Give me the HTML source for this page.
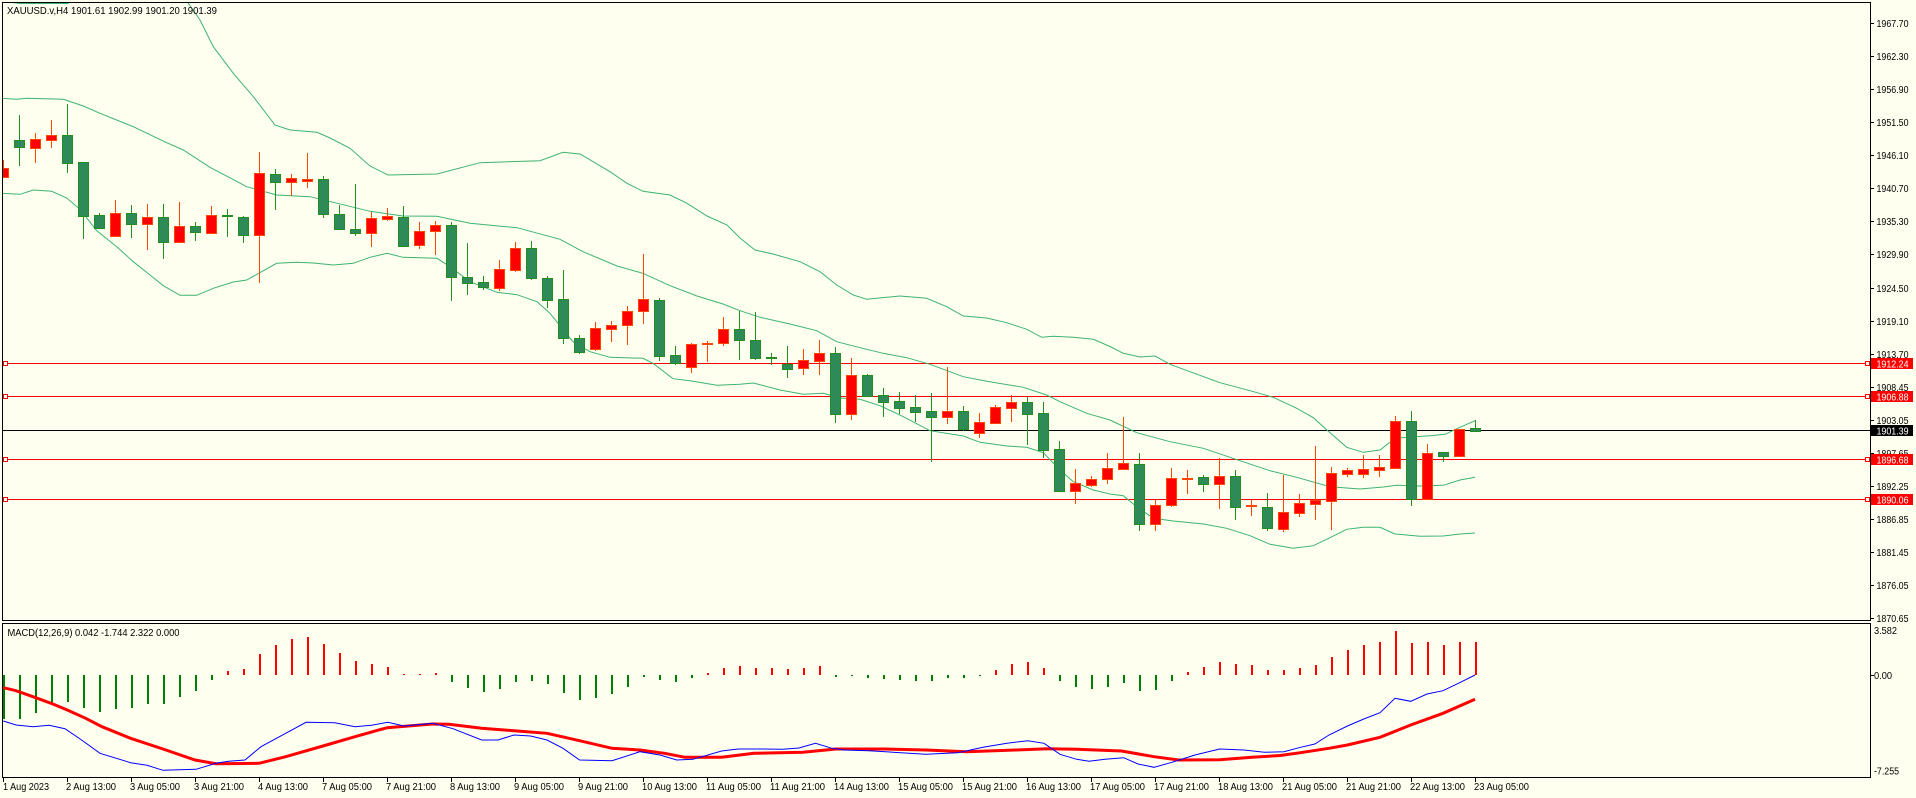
<!DOCTYPE html>
<html><head><meta charset="utf-8"><style>
html,body{margin:0;padding:0;background:#FFFFF0;}
svg{display:block;}
text{font-family:"Liberation Sans",sans-serif;font-size:10px;fill:#000;}
.g{fill:#2E8B57;stroke:#228B22;stroke-width:1;}
.r{fill:#FF0000;stroke:#FF4500;stroke-width:1;}
.gw{stroke:#228B22;stroke-width:1;}
.rw{stroke:#FF4500;stroke-width:1;}
.bb{fill:none;stroke:#3CB371;stroke-width:1;}
.hg{fill:#008000;}
.hr{fill:#FF0000;}
</style></head><body>
<svg width="1916" height="798" viewBox="0 0 1916 798" xmlns="http://www.w3.org/2000/svg">
<rect x="0" y="0" width="1916" height="798" fill="#FFFFF0"/>
<defs>
<clipPath id="cm"><rect x="3" y="3" width="1867" height="617"/></clipPath>
<clipPath id="cd"><rect x="3" y="624" width="1867" height="153"/></clipPath>
</defs>

<!-- horizontal level lines -->
<g shape-rendering="crispEdges">
<line x1="2" y1="363.5" x2="1870" y2="363.5" stroke="#FF0000"/>
<line x1="2" y1="396.5" x2="1870" y2="396.5" stroke="#FF0000"/>
<line x1="2" y1="459.5" x2="1870" y2="459.5" stroke="#FF0000"/>
<line x1="2" y1="499.5" x2="1870" y2="499.5" stroke="#FF0000"/>
<line x1="2" y1="430.5" x2="1870" y2="430.5" stroke="#000"/>
<rect x="3.5" y="361.5" width="4" height="4" fill="#FFFFF0" stroke="#FF0000"/>
<rect x="3.5" y="394.5" width="4" height="4" fill="#FFFFF0" stroke="#FF0000"/>
<rect x="3.5" y="457.5" width="4" height="4" fill="#FFFFF0" stroke="#FF0000"/>
<rect x="3.5" y="497.5" width="4" height="4" fill="#FFFFF0" stroke="#FF0000"/>
<rect x="1865.5" y="361.5" width="4" height="4" fill="#FFFFF0" stroke="#FF0000"/>
<rect x="1865.5" y="394.5" width="4" height="4" fill="#FFFFF0" stroke="#FF0000"/>
<rect x="1865.5" y="457.5" width="4" height="4" fill="#FFFFF0" stroke="#FF0000"/>
<rect x="1865.5" y="497.5" width="4" height="4" fill="#FFFFF0" stroke="#FF0000"/>
</g>

<g clip-path="url(#cm)">
<!-- Bollinger bands -->
<polyline class="bb" points="0,1 20,3.5 68,3.5 75,-5 120,-40 170,-20 186.7,1 200,20 213.3,46.7 233.3,73.3 253.3,96.7 275,125 290,130 317,132.3 330,138 350,148.3 370,166 388,175 437,174 480,162.7 540,160.7 563,152.3 580,154 610,171.7 627,183.3 643,191.3 670,195 687,203.3 707,216 727,225 740,238 755,250 773,254 800,261.7 820,271.7 836.7,285 853.3,295 866.7,299.3 886.7,297.3 900,296 926.7,298.3 946.7,306.7 963.3,316 986.7,318 1006.7,322.7 1026.7,329.3 1041.7,337.3 1053.3,336.3 1073.3,337.3 1093.3,339.3 1110,346.5 1123.3,353.3 1140,357 1155,356 1170,364.3 1190,371.7 1220,382.7 1250,390.7 1273.3,397.3 1296.7,408.3 1313.3,417.7 1330,432.7 1346.7,447.3 1363.3,452.3 1380,450 1395,438.3 1410,437 1430,435.7 1445,434.3 1460,427.3 1475,420.7"/>
<polyline class="bb" points="2,98.3 16.7,99.3 26.7,98.3 63.3,99.3 83.3,106 100,113.3 133.3,126.7 166.7,142.7 183.3,150 210,167.3 246.7,186.7 276.7,195 310,196.7 333.3,202.3 370,211.3 403,216 437,216.3 470,223.3 517,227.7 560,239.3 583,251.7 617,266 643,273.3 670,285.7 697,296 723,304 740,310.7 760,317.3 790,324 816.7,330.7 836.7,341.7 860,347.7 883.3,353.3 906.7,357.7 930,364.3 963.3,376.7 986.7,381.3 1023.3,387.3 1046.7,395 1060,401.7 1086.7,413.3 1110,420 1136.7,432.7 1170,441.7 1203.3,448.3 1240,460.7 1270,470.7 1296.7,477.3 1330,486.7 1360,489 1383.3,487 1396.7,485.3 1420,486 1443.3,485.3 1460,480 1475,477.3"/>
<polyline class="bb" points="2,193.3 20,194.3 33.3,190 51.7,191.3 66.7,198 80,209.3 96.7,230.7 116.7,246.7 133.3,261.7 150,275 163.3,285.7 180,295.3 196.7,295.3 213.3,288.3 233.3,282 246.7,280 276.7,263.3 296.7,262.3 313.3,263 333.3,265 353.3,263.3 370,257.3 387,253.3 403,257.3 437,258.3 450,266.7 470,281.7 497,292.3 517,294.7 537,301.7 550,313.3 573,341.7 590,351.7 610,357.3 643,358.3 653,363.3 673,378.7 690,380.7 717,385.3 740,384.3 753.3,383 780,390 803.3,394.3 823.3,393.3 840,398 860,399.3 880,405.7 903.3,416.7 930,430.7 963.3,436 980,442.3 1006.7,446 1026.7,447.3 1043.3,452.7 1060,470 1073.3,481.7 1093.3,490 1110,494 1123.3,495.7 1136.7,506.7 1153.3,518.3 1173.3,521 1203.3,524 1226.7,528.3 1250,535.7 1270,544.3 1293.3,548.3 1313.3,545.7 1330,537.7 1346.7,529.3 1363.3,527.3 1380,527.3 1395,534 1420,536.3 1443.3,536 1460,534 1475,533"/>

<!-- candles -->
<g shape-rendering="crispEdges">
<line class="rw" x1="3.5" y1="160" x2="3.5" y2="177"/><rect class="r" x="-1.5" y="168.5" width="10" height="9"/>
<line class="gw" x1="19.5" y1="115" x2="19.5" y2="166"/><rect class="g" x="14.5" y="140.5" width="10" height="7"/>
<line class="rw" x1="35.5" y1="133" x2="35.5" y2="163"/><rect class="r" x="30.5" y="139.5" width="10" height="9"/>
<line class="rw" x1="51.5" y1="120" x2="51.5" y2="148"/><rect class="r" x="46.5" y="135.5" width="10" height="5"/>
<line class="gw" x1="67.5" y1="104" x2="67.5" y2="173"/><rect class="g" x="62.5" y="135.5" width="10" height="28"/>
<line class="gw" x1="83.5" y1="162" x2="83.5" y2="239"/><rect class="g" x="78.5" y="162.5" width="10" height="54"/>
<line class="gw" x1="99.5" y1="213" x2="99.5" y2="229"/><rect class="g" x="94.5" y="215.5" width="10" height="13"/>
<line class="rw" x1="115.5" y1="200" x2="115.5" y2="236"/><rect class="r" x="110.5" y="213.5" width="10" height="23"/>
<line class="gw" x1="131.5" y1="205" x2="131.5" y2="238"/><rect class="g" x="126.5" y="213.5" width="10" height="11"/>
<line class="rw" x1="147.5" y1="204" x2="147.5" y2="250"/><rect class="r" x="142.5" y="217.5" width="10" height="7"/>
<line class="gw" x1="163.5" y1="204" x2="163.5" y2="259"/><rect class="g" x="158.5" y="217.5" width="10" height="25"/>
<line class="rw" x1="179.5" y1="202" x2="179.5" y2="242"/><rect class="r" x="174.5" y="226.5" width="10" height="16"/>
<line class="gw" x1="195.5" y1="222" x2="195.5" y2="241"/><rect class="g" x="190.5" y="226.5" width="10" height="6"/>
<line class="rw" x1="211.5" y1="206" x2="211.5" y2="234"/><rect class="r" x="206.5" y="215.5" width="10" height="18"/>
<line class="gw" x1="227.5" y1="209" x2="227.5" y2="237"/><rect class="g" x="222.5" y="215.5" width="10" height="1"/>
<line class="gw" x1="243.5" y1="216" x2="243.5" y2="243"/><rect class="g" x="238.5" y="217.5" width="10" height="18"/>
<line class="rw" x1="259.5" y1="152" x2="259.5" y2="283"/><rect class="r" x="254.5" y="173.5" width="10" height="62"/>
<line class="gw" x1="275.5" y1="169" x2="275.5" y2="210"/><rect class="g" x="270.5" y="174.5" width="10" height="8"/>
<line class="rw" x1="291.5" y1="174" x2="291.5" y2="196"/><rect class="r" x="286.5" y="178.5" width="10" height="4"/>
<line class="rw" x1="307.5" y1="153" x2="307.5" y2="188"/><rect class="r" x="302.5" y="179.5" width="10" height="2"/>
<line class="gw" x1="323.5" y1="176" x2="323.5" y2="218"/><rect class="g" x="318.5" y="179.5" width="10" height="35"/>
<line class="gw" x1="339.5" y1="205" x2="339.5" y2="229"/><rect class="g" x="334.5" y="214.5" width="10" height="15"/>
<line class="gw" x1="355.5" y1="184" x2="355.5" y2="236"/><rect class="g" x="350.5" y="229.5" width="10" height="4"/>
<line class="rw" x1="371.5" y1="212" x2="371.5" y2="247"/><rect class="r" x="366.5" y="218.5" width="10" height="15"/>
<line class="rw" x1="387.5" y1="208" x2="387.5" y2="221"/><rect class="r" x="382.5" y="216.5" width="10" height="3"/>
<line class="gw" x1="403.5" y1="206" x2="403.5" y2="247"/><rect class="g" x="398.5" y="217.5" width="10" height="29"/>
<line class="rw" x1="419.5" y1="222" x2="419.5" y2="249"/><rect class="r" x="414.5" y="231.5" width="10" height="14"/>
<line class="rw" x1="435.5" y1="221" x2="435.5" y2="255"/><rect class="r" x="430.5" y="225.5" width="10" height="6"/>
<line class="gw" x1="451.5" y1="222" x2="451.5" y2="301"/><rect class="g" x="446.5" y="225.5" width="10" height="52"/>
<line class="gw" x1="467.5" y1="243" x2="467.5" y2="295"/><rect class="g" x="462.5" y="277.5" width="10" height="6"/>
<line class="gw" x1="483.5" y1="276" x2="483.5" y2="290"/><rect class="g" x="478.5" y="282.5" width="10" height="5"/>
<line class="rw" x1="499.5" y1="260" x2="499.5" y2="291"/><rect class="r" x="494.5" y="269.5" width="10" height="19"/>
<line class="rw" x1="515.5" y1="242" x2="515.5" y2="272"/><rect class="r" x="510.5" y="248.5" width="10" height="22"/>
<line class="gw" x1="531.5" y1="241" x2="531.5" y2="280"/><rect class="g" x="526.5" y="248.5" width="10" height="30"/>
<line class="gw" x1="547.5" y1="276" x2="547.5" y2="308"/><rect class="g" x="542.5" y="278.5" width="10" height="22"/>
<line class="gw" x1="563.5" y1="270" x2="563.5" y2="344"/><rect class="g" x="558.5" y="299.5" width="10" height="39"/>
<line class="gw" x1="579.5" y1="335" x2="579.5" y2="354"/><rect class="g" x="574.5" y="338.5" width="10" height="14"/>
<line class="rw" x1="595.5" y1="322" x2="595.5" y2="351"/><rect class="r" x="590.5" y="328.5" width="10" height="21"/>
<line class="rw" x1="611.5" y1="321" x2="611.5" y2="342"/><rect class="r" x="606.5" y="325.5" width="10" height="4"/>
<line class="rw" x1="627.5" y1="306" x2="627.5" y2="345"/><rect class="r" x="622.5" y="311.5" width="10" height="14"/>
<line class="rw" x1="643.5" y1="254" x2="643.5" y2="324"/><rect class="r" x="638.5" y="299.5" width="10" height="12"/>
<line class="gw" x1="659.5" y1="298" x2="659.5" y2="361"/><rect class="g" x="654.5" y="300.5" width="10" height="56"/>
<line class="gw" x1="675.5" y1="346" x2="675.5" y2="365"/><rect class="g" x="670.5" y="355.5" width="10" height="8"/>
<line class="rw" x1="691.5" y1="343" x2="691.5" y2="373"/><rect class="r" x="686.5" y="344.5" width="10" height="23"/>
<line class="rw" x1="707.5" y1="341" x2="707.5" y2="362"/><rect class="r" x="702.5" y="343.5" width="10" height="1"/>
<line class="rw" x1="723.5" y1="317" x2="723.5" y2="346"/><rect class="r" x="718.5" y="329.5" width="10" height="14"/>
<line class="gw" x1="739.5" y1="311" x2="739.5" y2="360"/><rect class="g" x="734.5" y="329.5" width="10" height="11"/>
<line class="gw" x1="755.5" y1="312" x2="755.5" y2="360"/><rect class="g" x="750.5" y="340.5" width="10" height="18"/>
<line class="gw" x1="771.5" y1="353" x2="771.5" y2="365"/><rect class="g" x="766.5" y="357.5" width="10" height="1"/>
<line class="gw" x1="787.5" y1="346" x2="787.5" y2="378"/><rect class="g" x="782.5" y="364.5" width="10" height="5"/>
<line class="rw" x1="803.5" y1="349" x2="803.5" y2="375"/><rect class="r" x="798.5" y="360.5" width="10" height="8"/>
<line class="rw" x1="819.5" y1="340" x2="819.5" y2="375"/><rect class="r" x="814.5" y="353.5" width="10" height="8"/>
<line class="gw" x1="835.5" y1="347" x2="835.5" y2="423"/><rect class="g" x="830.5" y="353.5" width="10" height="61"/>
<line class="rw" x1="851.5" y1="358" x2="851.5" y2="420"/><rect class="r" x="846.5" y="375.5" width="10" height="39"/>
<line class="gw" x1="867.5" y1="374" x2="867.5" y2="396"/><rect class="g" x="862.5" y="375.5" width="10" height="21"/>
<line class="gw" x1="883.5" y1="388" x2="883.5" y2="417"/><rect class="g" x="878.5" y="395.5" width="10" height="7"/>
<line class="gw" x1="899.5" y1="392" x2="899.5" y2="414"/><rect class="g" x="894.5" y="401.5" width="10" height="7"/>
<line class="gw" x1="915.5" y1="395" x2="915.5" y2="422"/><rect class="g" x="910.5" y="407.5" width="10" height="5"/>
<line class="gw" x1="931.5" y1="393" x2="931.5" y2="462"/><rect class="g" x="926.5" y="411.5" width="10" height="6"/>
<line class="rw" x1="947.5" y1="367" x2="947.5" y2="424"/><rect class="r" x="942.5" y="411.5" width="10" height="6"/>
<line class="gw" x1="963.5" y1="406" x2="963.5" y2="431"/><rect class="g" x="958.5" y="411.5" width="10" height="18"/>
<line class="rw" x1="979.5" y1="413" x2="979.5" y2="438"/><rect class="r" x="974.5" y="422.5" width="10" height="11"/>
<line class="rw" x1="995.5" y1="405" x2="995.5" y2="424"/><rect class="r" x="990.5" y="407.5" width="10" height="16"/>
<line class="rw" x1="1011.5" y1="395" x2="1011.5" y2="422"/><rect class="r" x="1006.5" y="402.5" width="10" height="6"/>
<line class="gw" x1="1027.5" y1="397" x2="1027.5" y2="445"/><rect class="g" x="1022.5" y="402.5" width="10" height="12"/>
<line class="gw" x1="1043.5" y1="402" x2="1043.5" y2="458"/><rect class="g" x="1038.5" y="413.5" width="10" height="37"/>
<line class="gw" x1="1059.5" y1="441" x2="1059.5" y2="492"/><rect class="g" x="1054.5" y="449.5" width="10" height="42"/>
<line class="rw" x1="1075.5" y1="469" x2="1075.5" y2="504"/><rect class="r" x="1070.5" y="483.5" width="10" height="8"/>
<line class="rw" x1="1091.5" y1="476" x2="1091.5" y2="487"/><rect class="r" x="1086.5" y="479.5" width="10" height="6"/>
<line class="rw" x1="1107.5" y1="453" x2="1107.5" y2="484"/><rect class="r" x="1102.5" y="468.5" width="10" height="11"/>
<line class="rw" x1="1123.5" y1="417" x2="1123.5" y2="469"/><rect class="r" x="1118.5" y="463.5" width="10" height="6"/>
<line class="gw" x1="1139.5" y1="453" x2="1139.5" y2="531"/><rect class="g" x="1134.5" y="464.5" width="10" height="60"/>
<line class="rw" x1="1155.5" y1="500" x2="1155.5" y2="531"/><rect class="r" x="1150.5" y="505.5" width="10" height="19"/>
<line class="rw" x1="1171.5" y1="468" x2="1171.5" y2="507"/><rect class="r" x="1166.5" y="478.5" width="10" height="27"/>
<line class="rw" x1="1187.5" y1="470" x2="1187.5" y2="494"/><rect class="r" x="1182.5" y="478.5" width="10" height="1"/>
<line class="gw" x1="1203.5" y1="475" x2="1203.5" y2="492"/><rect class="g" x="1198.5" y="477.5" width="10" height="7"/>
<line class="rw" x1="1219.5" y1="458" x2="1219.5" y2="509"/><rect class="r" x="1214.5" y="476.5" width="10" height="8"/>
<line class="gw" x1="1235.5" y1="470" x2="1235.5" y2="520"/><rect class="g" x="1230.5" y="476.5" width="10" height="31"/>
<line class="rw" x1="1251.5" y1="500" x2="1251.5" y2="516"/><rect class="r" x="1246.5" y="505.5" width="10" height="1"/>
<line class="gw" x1="1267.5" y1="493" x2="1267.5" y2="531"/><rect class="g" x="1262.5" y="507.5" width="10" height="21"/>
<line class="rw" x1="1283.5" y1="475" x2="1283.5" y2="532"/><rect class="r" x="1278.5" y="512.5" width="10" height="17"/>
<line class="rw" x1="1299.5" y1="494" x2="1299.5" y2="517"/><rect class="r" x="1294.5" y="503.5" width="10" height="10"/>
<line class="rw" x1="1315.5" y1="446" x2="1315.5" y2="520"/><rect class="r" x="1310.5" y="500.5" width="10" height="4"/>
<line class="rw" x1="1331.5" y1="467" x2="1331.5" y2="530"/><rect class="r" x="1326.5" y="473.5" width="10" height="28"/>
<line class="rw" x1="1347.5" y1="468" x2="1347.5" y2="477"/><rect class="r" x="1342.5" y="470.5" width="10" height="4"/>
<line class="rw" x1="1363.5" y1="455" x2="1363.5" y2="478"/><rect class="r" x="1358.5" y="469.5" width="10" height="5"/>
<line class="rw" x1="1379.5" y1="455" x2="1379.5" y2="477"/><rect class="r" x="1374.5" y="467.5" width="10" height="3"/>
<line class="rw" x1="1395.5" y1="416" x2="1395.5" y2="469"/><rect class="r" x="1390.5" y="421.5" width="10" height="47"/>
<line class="gw" x1="1411.5" y1="411" x2="1411.5" y2="506"/><rect class="g" x="1406.5" y="421.5" width="10" height="78"/>
<line class="rw" x1="1427.5" y1="444" x2="1427.5" y2="499"/><rect class="r" x="1422.5" y="453.5" width="10" height="46"/>
<line class="gw" x1="1443.5" y1="452" x2="1443.5" y2="462"/><rect class="g" x="1438.5" y="452.5" width="10" height="4"/>
<line class="rw" x1="1459.5" y1="429" x2="1459.5" y2="457"/><rect class="r" x="1454.5" y="429.5" width="10" height="27"/>
<line class="gw" x1="1475.5" y1="420" x2="1475.5" y2="432"/><rect class="g" x="1470.5" y="428.5" width="10" height="3"/>
</g>
</g>

<!-- MACD panel -->
<g clip-path="url(#cd)" shape-rendering="crispEdges">
<rect class="hg" x="3" y="675" width="2" height="44"/>
<rect class="hg" x="19" y="675" width="2" height="44"/>
<rect class="hg" x="35" y="675" width="2" height="38"/>
<rect class="hg" x="51" y="675" width="2" height="29"/>
<rect class="hg" x="67" y="675" width="2" height="27"/>
<rect class="hg" x="83" y="675" width="2" height="33"/>
<rect class="hg" x="99" y="675" width="2" height="37"/>
<rect class="hg" x="115" y="675" width="2" height="34"/>
<rect class="hg" x="131" y="675" width="2" height="33"/>
<rect class="hg" x="147" y="675" width="2" height="29"/>
<rect class="hg" x="163" y="675" width="2" height="29"/>
<rect class="hg" x="179" y="675" width="2" height="22"/>
<rect class="hg" x="195" y="675" width="2" height="16"/>
<rect class="hg" x="211" y="675" width="2" height="5"/>
<rect class="hr" x="227" y="671" width="2" height="4"/>
<rect class="hr" x="243" y="669" width="2" height="6"/>
<rect class="hr" x="259" y="654" width="2" height="21"/>
<rect class="hr" x="275" y="645" width="2" height="30"/>
<rect class="hr" x="291" y="639" width="2" height="36"/>
<rect class="hr" x="307" y="637" width="2" height="38"/>
<rect class="hr" x="323" y="644" width="2" height="31"/>
<rect class="hr" x="339" y="653" width="2" height="22"/>
<rect class="hr" x="355" y="661" width="2" height="14"/>
<rect class="hr" x="371" y="664" width="2" height="11"/>
<rect class="hr" x="387" y="667" width="2" height="8"/>
<rect class="hr" x="403" y="674" width="2" height="1"/>
<rect class="hr" x="419" y="674" width="2" height="1"/>
<rect class="hr" x="435" y="673" width="2" height="2"/>
<rect class="hg" x="451" y="675" width="2" height="7"/>
<rect class="hg" x="467" y="675" width="2" height="13"/>
<rect class="hg" x="483" y="675" width="2" height="17"/>
<rect class="hg" x="499" y="675" width="2" height="14"/>
<rect class="hg" x="515" y="675" width="2" height="7"/>
<rect class="hg" x="531" y="675" width="2" height="6"/>
<rect class="hg" x="547" y="675" width="2" height="9"/>
<rect class="hg" x="563" y="675" width="2" height="18"/>
<rect class="hg" x="579" y="675" width="2" height="25"/>
<rect class="hg" x="595" y="675" width="2" height="23"/>
<rect class="hg" x="611" y="675" width="2" height="19"/>
<rect class="hg" x="627" y="675" width="2" height="12"/>
<rect class="hg" x="643" y="675" width="2" height="2"/>
<rect class="hg" x="659" y="675" width="2" height="5"/>
<rect class="hg" x="675" y="675" width="2" height="7"/>
<rect class="hg" x="691" y="675" width="2" height="3"/>
<rect class="hr" x="707" y="673" width="2" height="2"/>
<rect class="hr" x="723" y="668" width="2" height="7"/>
<rect class="hr" x="739" y="666" width="2" height="9"/>
<rect class="hr" x="755" y="668" width="2" height="7"/>
<rect class="hr" x="771" y="668" width="2" height="7"/>
<rect class="hr" x="787" y="669" width="2" height="6"/>
<rect class="hr" x="803" y="668" width="2" height="7"/>
<rect class="hr" x="819" y="666" width="2" height="9"/>
<rect class="hg" x="835" y="675" width="2" height="2"/>
<rect class="hg" x="851" y="675" width="2" height="1"/>
<rect class="hg" x="867" y="675" width="2" height="3"/>
<rect class="hg" x="883" y="675" width="2" height="4"/>
<rect class="hg" x="899" y="675" width="2" height="5"/>
<rect class="hg" x="915" y="675" width="2" height="6"/>
<rect class="hg" x="931" y="675" width="2" height="6"/>
<rect class="hg" x="947" y="675" width="2" height="3"/>
<rect class="hg" x="963" y="675" width="2" height="3"/>
<rect class="hg" x="979" y="675" width="2" height="1"/>
<rect class="hr" x="995" y="670" width="2" height="5"/>
<rect class="hr" x="1011" y="664" width="2" height="11"/>
<rect class="hr" x="1027" y="662" width="2" height="13"/>
<rect class="hr" x="1043" y="668" width="2" height="7"/>
<rect class="hg" x="1059" y="675" width="2" height="6"/>
<rect class="hg" x="1075" y="675" width="2" height="12"/>
<rect class="hg" x="1091" y="675" width="2" height="14"/>
<rect class="hg" x="1107" y="675" width="2" height="12"/>
<rect class="hg" x="1123" y="675" width="2" height="8"/>
<rect class="hg" x="1139" y="675" width="2" height="16"/>
<rect class="hg" x="1155" y="675" width="2" height="15"/>
<rect class="hg" x="1171" y="675" width="2" height="6"/>
<rect class="hr" x="1187" y="672" width="2" height="3"/>
<rect class="hr" x="1203" y="667" width="2" height="8"/>
<rect class="hr" x="1219" y="662" width="2" height="13"/>
<rect class="hr" x="1235" y="664" width="2" height="11"/>
<rect class="hr" x="1251" y="665" width="2" height="10"/>
<rect class="hr" x="1267" y="670" width="2" height="5"/>
<rect class="hr" x="1283" y="670" width="2" height="5"/>
<rect class="hr" x="1299" y="668" width="2" height="7"/>
<rect class="hr" x="1315" y="665" width="2" height="10"/>
<rect class="hr" x="1331" y="657" width="2" height="18"/>
<rect class="hr" x="1347" y="650" width="2" height="25"/>
<rect class="hr" x="1363" y="645" width="2" height="30"/>
<rect class="hr" x="1379" y="642" width="2" height="33"/>
<rect class="hr" x="1395" y="631" width="2" height="44"/>
<rect class="hr" x="1411" y="643" width="2" height="32"/>
<rect class="hr" x="1427" y="642" width="2" height="33"/>
<rect class="hr" x="1443" y="645" width="2" height="30"/>
<rect class="hr" x="1459" y="642" width="2" height="33"/>
<rect class="hr" x="1475" y="642" width="2" height="33"/>
</g>
<g clip-path="url(#cd)">
<polyline fill="none" stroke="#FF0000" stroke-width="3" points="3.3,687.7 16,690.7 34.7,697.3 51,703.3 67.3,710 85.7,718.3 102,726.7 130.6,738.3 163,749 195,760 216,763.7 259,763.3 285.7,756.7 323,746 355,736.7 387,727.7 432.7,724 449,724.3 481.6,728.3 514,730.7 547,733.3 579.6,740.7 612,748.3 640,750 664.5,753.3 685,757.3 721.6,757.3 754,753.3 803,752.3 836,749 885,749 925.7,750 966.5,751.7 1015.5,750 1048,748.7 1076.7,749.3 1121.6,751 1154,756.7 1178.8,760 1219.6,759.7 1252,757.3 1280,755.5 1300.5,752.7 1329,748.3 1347.4,745 1380,737.3 1410.7,725 1443,713.3 1475,699.3"/>
<polyline fill="none" stroke="#0000FF" stroke-width="1" points="3.3,721 16,725 33,726.7 49,725.3 65,728.7 81.6,740 100,753.3 130.6,762.7 147,765.3 163,770.3 196,769.3 216,763.3 228.6,761.3 245,760 261,746.7 285.7,733.3 306,722.3 334.7,722.7 355,726.7 371.4,725.3 387.8,722.3 404,726 432.7,723.3 453,728.7 481.6,740 498,740 514,735 530.6,736 547,740 563,748.3 579.6,760 612,760.7 640,751.7 660,755 676.7,760 693,759.3 721.6,751 738,749 762.4,749 783,749.3 799,748 815.5,743.3 832,748.3 844,750 868.6,750.7 901,752.7 925.7,754.3 958,752.7 983,747.3 1007,743.3 1027.8,740.7 1044,743.3 1060,754.3 1076.7,759.3 1089,761.3 1105,759.3 1123.7,757.7 1138,764 1154,767.3 1170.6,762.7 1195,755 1219.6,749 1244,750 1264.5,752.3 1284,751.7 1300.5,747.3 1314.8,744 1329,735 1347.4,726 1363.8,719 1380,712.7 1395,698.3 1410.7,701.3 1427,694 1443,690.7 1459.7,682.7 1475,675"/>
</g>

<!-- frames -->
<g shape-rendering="crispEdges" fill="none" stroke="#000" stroke-width="1">
<rect x="2.5" y="2.5" width="1868" height="618"/>
<rect x="2.5" y="623.5" width="1868" height="154"/>
</g>

<!-- price axis ticks -->
<g stroke="#000" shape-rendering="crispEdges">
<line x1="1871" y1="23.5" x2="1874" y2="23.5"/>
<line x1="1871" y1="56.5" x2="1874" y2="56.5"/>
<line x1="1871" y1="89.5" x2="1874" y2="89.5"/>
<line x1="1871" y1="122.5" x2="1874" y2="122.5"/>
<line x1="1871" y1="155.5" x2="1874" y2="155.5"/>
<line x1="1871" y1="188.5" x2="1874" y2="188.5"/>
<line x1="1871" y1="221.5" x2="1874" y2="221.5"/>
<line x1="1871" y1="254.5" x2="1874" y2="254.5"/>
<line x1="1871" y1="288.5" x2="1874" y2="288.5"/>
<line x1="1871" y1="321.5" x2="1874" y2="321.5"/>
<line x1="1871" y1="354.5" x2="1874" y2="354.5"/>
<line x1="1871" y1="387.5" x2="1874" y2="387.5"/>
<line x1="1871" y1="420.5" x2="1874" y2="420.5"/>
<line x1="1871" y1="453.5" x2="1874" y2="453.5"/>
<line x1="1871" y1="486.5" x2="1874" y2="486.5"/>
<line x1="1871" y1="519.5" x2="1874" y2="519.5"/>
<line x1="1871" y1="552.5" x2="1874" y2="552.5"/>
<line x1="1871" y1="585.5" x2="1874" y2="585.5"/>
<line x1="1871" y1="618.5" x2="1874" y2="618.5"/>
<line x1="1871" y1="675.5" x2="1874" y2="675.5"/>
</g>
<g>
<text x="1876.5" y="27" textLength="32" lengthAdjust="spacingAndGlyphs">1967.70</text>
<text x="1876.5" y="60" textLength="32" lengthAdjust="spacingAndGlyphs">1962.30</text>
<text x="1876.5" y="93" textLength="32" lengthAdjust="spacingAndGlyphs">1956.90</text>
<text x="1876.5" y="126" textLength="32" lengthAdjust="spacingAndGlyphs">1951.50</text>
<text x="1876.5" y="159" textLength="32" lengthAdjust="spacingAndGlyphs">1946.10</text>
<text x="1876.5" y="192" textLength="32" lengthAdjust="spacingAndGlyphs">1940.70</text>
<text x="1876.5" y="225" textLength="32" lengthAdjust="spacingAndGlyphs">1935.30</text>
<text x="1876.5" y="258" textLength="32" lengthAdjust="spacingAndGlyphs">1929.90</text>
<text x="1876.5" y="292" textLength="32" lengthAdjust="spacingAndGlyphs">1924.50</text>
<text x="1876.5" y="325" textLength="32" lengthAdjust="spacingAndGlyphs">1919.10</text>
<text x="1876.5" y="358" textLength="32" lengthAdjust="spacingAndGlyphs">1913.70</text>
<text x="1876.5" y="391" textLength="32" lengthAdjust="spacingAndGlyphs">1908.45</text>
<text x="1876.5" y="424" textLength="32" lengthAdjust="spacingAndGlyphs">1903.05</text>
<text x="1876.5" y="457" textLength="32" lengthAdjust="spacingAndGlyphs">1897.65</text>
<text x="1876.5" y="490" textLength="32" lengthAdjust="spacingAndGlyphs">1892.25</text>
<text x="1876.5" y="523" textLength="32" lengthAdjust="spacingAndGlyphs">1886.85</text>
<text x="1876.5" y="556" textLength="32" lengthAdjust="spacingAndGlyphs">1881.45</text>
<text x="1876.5" y="589" textLength="32" lengthAdjust="spacingAndGlyphs">1876.05</text>
<text x="1876.5" y="622" textLength="32" lengthAdjust="spacingAndGlyphs">1870.65</text>
</g>

<!-- highlighted price boxes -->
<g shape-rendering="crispEdges">
<rect x="1871" y="358" width="42" height="11" fill="#FF0000"/>
<rect x="1871" y="391" width="42" height="11" fill="#FF0000"/>
<rect x="1871" y="425" width="42" height="11" fill="#000"/>
<rect x="1871" y="454" width="42" height="11" fill="#FF0000"/>
<rect x="1871" y="494" width="42" height="11" fill="#FF0000"/>
</g>
<g>
<text x="1876.5" y="367.5" textLength="32" lengthAdjust="spacingAndGlyphs" style="fill:#fff">1912.24</text>
<text x="1876.5" y="400.5" textLength="32" lengthAdjust="spacingAndGlyphs" style="fill:#fff">1906.88</text>
<text x="1876.5" y="434.5" textLength="32" lengthAdjust="spacingAndGlyphs" style="fill:#fff">1901.39</text>
<text x="1876.5" y="463.5" textLength="32" lengthAdjust="spacingAndGlyphs" style="fill:#fff">1896.68</text>
<text x="1876.5" y="503.5" textLength="32" lengthAdjust="spacingAndGlyphs" style="fill:#fff">1890.06</text>
</g>

<!-- MACD scale -->
<text x="1874" y="634" textLength="23" lengthAdjust="spacingAndGlyphs">3.582</text>
<text x="1874" y="679" textLength="18" lengthAdjust="spacingAndGlyphs">0.00</text>
<text x="1874" y="774.5" textLength="25" lengthAdjust="spacingAndGlyphs">-7.255</text>

<!-- titles -->
<text x="7" y="14" textLength="210" lengthAdjust="spacingAndGlyphs">XAUUSD.v,H4  1901.61 1902.99 1901.20 1901.39</text>
<text x="7.5" y="636" textLength="172" lengthAdjust="spacingAndGlyphs">MACD(12,26,9) 0.042 -1.744 2.322 0.000</text>

<!-- time axis -->
<g stroke="#000" shape-rendering="crispEdges">
<line x1="3.5" y1="778" x2="3.5" y2="782"/>
<line x1="67.5" y1="778" x2="67.5" y2="782"/>
<line x1="131.5" y1="778" x2="131.5" y2="782"/>
<line x1="195.5" y1="778" x2="195.5" y2="782"/>
<line x1="259.5" y1="778" x2="259.5" y2="782"/>
<line x1="323.5" y1="778" x2="323.5" y2="782"/>
<line x1="387.5" y1="778" x2="387.5" y2="782"/>
<line x1="451.5" y1="778" x2="451.5" y2="782"/>
<line x1="515.5" y1="778" x2="515.5" y2="782"/>
<line x1="579.5" y1="778" x2="579.5" y2="782"/>
<line x1="643.5" y1="778" x2="643.5" y2="782"/>
<line x1="707.5" y1="778" x2="707.5" y2="782"/>
<line x1="771.5" y1="778" x2="771.5" y2="782"/>
<line x1="835.5" y1="778" x2="835.5" y2="782"/>
<line x1="899.5" y1="778" x2="899.5" y2="782"/>
<line x1="963.5" y1="778" x2="963.5" y2="782"/>
<line x1="1027.5" y1="778" x2="1027.5" y2="782"/>
<line x1="1091.5" y1="778" x2="1091.5" y2="782"/>
<line x1="1155.5" y1="778" x2="1155.5" y2="782"/>
<line x1="1219.5" y1="778" x2="1219.5" y2="782"/>
<line x1="1283.5" y1="778" x2="1283.5" y2="782"/>
<line x1="1347.5" y1="778" x2="1347.5" y2="782"/>
<line x1="1411.5" y1="778" x2="1411.5" y2="782"/>
<line x1="1475.5" y1="778" x2="1475.5" y2="782"/>
</g>
<g>
<text x="3" y="790" textLength="46" lengthAdjust="spacingAndGlyphs">1 Aug 2023</text>
<text x="66" y="790" textLength="50" lengthAdjust="spacingAndGlyphs">2 Aug 13:00</text>
<text x="130" y="790" textLength="50" lengthAdjust="spacingAndGlyphs">3 Aug 05:00</text>
<text x="194" y="790" textLength="50" lengthAdjust="spacingAndGlyphs">3 Aug 21:00</text>
<text x="258" y="790" textLength="50" lengthAdjust="spacingAndGlyphs">4 Aug 13:00</text>
<text x="322" y="790" textLength="50" lengthAdjust="spacingAndGlyphs">7 Aug 05:00</text>
<text x="386" y="790" textLength="50" lengthAdjust="spacingAndGlyphs">7 Aug 21:00</text>
<text x="450" y="790" textLength="50" lengthAdjust="spacingAndGlyphs">8 Aug 13:00</text>
<text x="514" y="790" textLength="50" lengthAdjust="spacingAndGlyphs">9 Aug 05:00</text>
<text x="578" y="790" textLength="50" lengthAdjust="spacingAndGlyphs">9 Aug 21:00</text>
<text x="642" y="790" textLength="55" lengthAdjust="spacingAndGlyphs">10 Aug 13:00</text>
<text x="706" y="790" textLength="55" lengthAdjust="spacingAndGlyphs">11 Aug 05:00</text>
<text x="770" y="790" textLength="55" lengthAdjust="spacingAndGlyphs">11 Aug 21:00</text>
<text x="834" y="790" textLength="55" lengthAdjust="spacingAndGlyphs">14 Aug 13:00</text>
<text x="898" y="790" textLength="55" lengthAdjust="spacingAndGlyphs">15 Aug 05:00</text>
<text x="962" y="790" textLength="55" lengthAdjust="spacingAndGlyphs">15 Aug 21:00</text>
<text x="1026" y="790" textLength="55" lengthAdjust="spacingAndGlyphs">16 Aug 13:00</text>
<text x="1090" y="790" textLength="55" lengthAdjust="spacingAndGlyphs">17 Aug 05:00</text>
<text x="1154" y="790" textLength="55" lengthAdjust="spacingAndGlyphs">17 Aug 21:00</text>
<text x="1218" y="790" textLength="55" lengthAdjust="spacingAndGlyphs">18 Aug 13:00</text>
<text x="1282" y="790" textLength="55" lengthAdjust="spacingAndGlyphs">21 Aug 05:00</text>
<text x="1346" y="790" textLength="55" lengthAdjust="spacingAndGlyphs">21 Aug 21:00</text>
<text x="1410" y="790" textLength="55" lengthAdjust="spacingAndGlyphs">22 Aug 13:00</text>
<text x="1474" y="790" textLength="55" lengthAdjust="spacingAndGlyphs">23 Aug 05:00</text>
</g>
</svg>
</body></html>
